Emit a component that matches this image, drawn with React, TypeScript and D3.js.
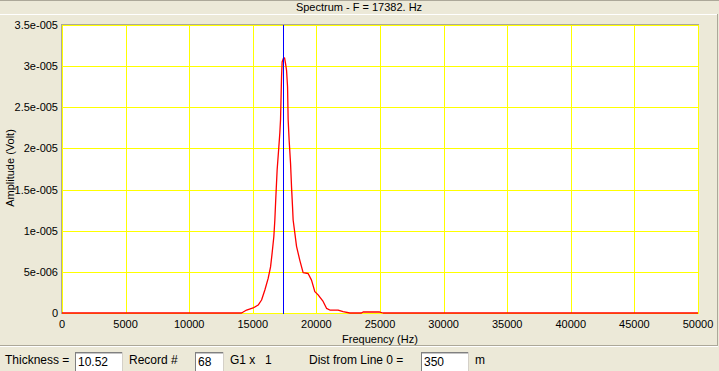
import React from 'react';
import * as d3 from 'd3';

// spectrum samples (Hz, Volt)
const freqs = [0, 13200, 14118, 14510, 15029, 15422, 15689, 15948, 16207, 16396, 16521, 16655, 16733, 16812, 16914, 17048, 17126, 17181, 17260, 17307, 17417, 17496, 17574, 17653, 17732, 17779, 17857, 17967, 18046, 18124, 18171, 18305, 18438, 18697, 18956, 19349, 19616, 19876, 20135, 20528, 20795, 21054, 21706, 22099, 22625, 23544, 23670, 24982, 25241, 50000];
const amps = [0, 0, 0, 3.6e-7, 6.1e-7, 9.7e-7, 1.58e-6, 2.8e-6, 4.2e-6, 5.6e-6, 7.3e-6, 9.3e-6, 1.13e-5, 1.41e-5, 1.74e-5, 2.02e-5, 2.19e-5, 2.35e-5, 2.87e-5, 3.05e-5, 3.1e-5, 3.1e-5, 3.03e-5, 2.95e-5, 2.75e-5, 2.35e-5, 2.1e-5, 1.82e-5, 1.53e-5, 1.29e-5, 1.13e-5, 9.7e-6, 8.1e-6, 6.4e-6, 4.9e-6, 4.8e-6, 4.0e-6, 2.6e-6, 2.2e-6, 1.4e-6, 5.7e-7, 3.6e-7, 3.6e-7, 1.6e-7, 0, 0, 1.2e-7, 1.2e-7, 0, 0];

const xTicks = [0, 5000, 10000, 15000, 20000, 25000, 30000, 35000, 40000, 45000, 50000];
const yTicks = [0, 5e-6, 1e-5, 1.5e-5, 2e-5, 2.5e-5, 3e-5, 3.5e-5];
const yTickLabels = ['0', '5e-006', '1e-005', '1.5e-005', '2e-005', '2.5e-005', '3e-005', '3.5e-005'];

const peakFreq = 17382;
const title = 'Spectrum - F = 17382. Hz';

const fields = [
  { label: 'Thickness =', lx: 5, box: [75, 123], value: '10.52' },
  { label: 'Record #', lx: 129, box: [195, 224], value: '68' },
  { label: 'Dist from Line 0 =', lx: 309, box: [421, 469], value: '350' },
];

const font = '"Liberation Sans", Arial, sans-serif';
const bg = '#ece9d8';
const edge = '#aca899';

const App = () => {
  const width = 719;
  const height = 371;
  const left = 62, right = 698, top = 25, bottom = 313;

  const x = d3.scaleLinear().domain([0, 50000]).range([left, right]);
  const y = d3.scaleLinear().domain([0, 3.5e-5]).range([bottom, top]);

  const line = d3.line<number>()
    .x((_, i) => x(freqs[i]))
    .y(d => y(d));

  return (
    <svg width={width} height={height} style={{ position: 'absolute', left: 0, top: 0, background: bg }}
      fontFamily={font} fontSize={11}>
      <rect width={width} height={height} fill={bg} />
      {/* window frame */}
      <line x1={0} x2={width} y1={0.5} y2={0.5} stroke={edge} />
      <line x1={0} x2={717} y1={14.5} y2={14.5} stroke='#fff' />
      <line x1={717.5} x2={717.5} y1={14} y2={346} stroke={edge} />
      <line x1={0} x2={718} y1={345.5} y2={345.5} stroke={edge} />
      <line x1={0} x2={718} y1={346.5} y2={346.5} stroke='#fff' />
      <text x={359} y={11} textAnchor='middle'>{title}</text>

      {/* plot area */}
      <rect x={left} y={top} width={right - left} height={bottom - top} fill='#fff' />
      <line x1={left - 0.5} x2={left - 0.5} y1={top - 1} y2={bottom + 1} stroke={edge} />
      <line x1={left - 1} x2={right + 1} y1={top - 0.5} y2={top - 0.5} stroke={edge} />
      <g stroke='#ffff00' shapeRendering='crispEdges'>
        {xTicks.map(t => (
          <line key={'gx' + t} x1={Math.round(x(t)) + 0.5} x2={Math.round(x(t)) + 0.5} y1={top} y2={bottom} />
        ))}
        {yTicks.map(t => (
          <line key={'gy' + t} x1={left} x2={right + 1} y1={Math.round(y(t)) + 0.5} y2={Math.round(y(t)) + 0.5} />
        ))}
      </g>
      <path d={line(amps) || ''} fill='none' stroke='#ff0000' strokeWidth={1.3} strokeLinejoin='round' />
      <line x1={Math.round(x(peakFreq)) + 0.5} x2={Math.round(x(peakFreq)) + 0.5} y1={top} y2={bottom + 1}
        stroke='#0000ff' shapeRendering='crispEdges' />

      {/* axes labels */}
      {xTicks.map(t => (
        <text key={'tx' + t} x={x(t)} y={328} textAnchor='middle'>{t}</text>
      ))}
      {yTicks.map((t, i) => (
        <text key={'ty' + t} x={58} y={y(t) + 4} textAnchor='end'>{yTickLabels[i]}</text>
      ))}
      <text x={380} y={343} textAnchor='middle'>Frequency (Hz)</text>
      <text transform='translate(14,168) rotate(-90)' textAnchor='middle'>Amplitude (Volt)</text>

      {/* bottom controls */}
      {fields.map(f => (
        <g key={f.label}>
          <text x={f.lx} y={364} fontSize={12}>{f.label}</text>
          <rect x={f.box[0]} y={352} width={f.box[1] - f.box[0]} height={22} fill='#fff' />
          <line x1={f.box[0]} x2={f.box[1]} y1={352.5} y2={352.5} stroke='#808080' />
          <line x1={f.box[0] + 0.5} x2={f.box[0] + 0.5} y1={352} y2={371} stroke='#808080' />
          <line x1={f.box[0] + 1} x2={f.box[1]} y1={353.5} y2={353.5} stroke='#404040' strokeOpacity={0.3} />
          <line x1={f.box[1] - 0.5} x2={f.box[1] - 0.5} y1={352} y2={371} stroke='#d4d0c8' />
          <text x={f.box[0] + 3} y={366} fontSize={12}>{f.value}</text>
        </g>
      ))}
      <text x={230} y={364} fontSize={12}>G1 x</text>
      <text x={265} y={364} fontSize={12}>1</text>
      <text x={475} y={364} fontSize={12}>m</text>
    </svg>
  );
};

export default App;
